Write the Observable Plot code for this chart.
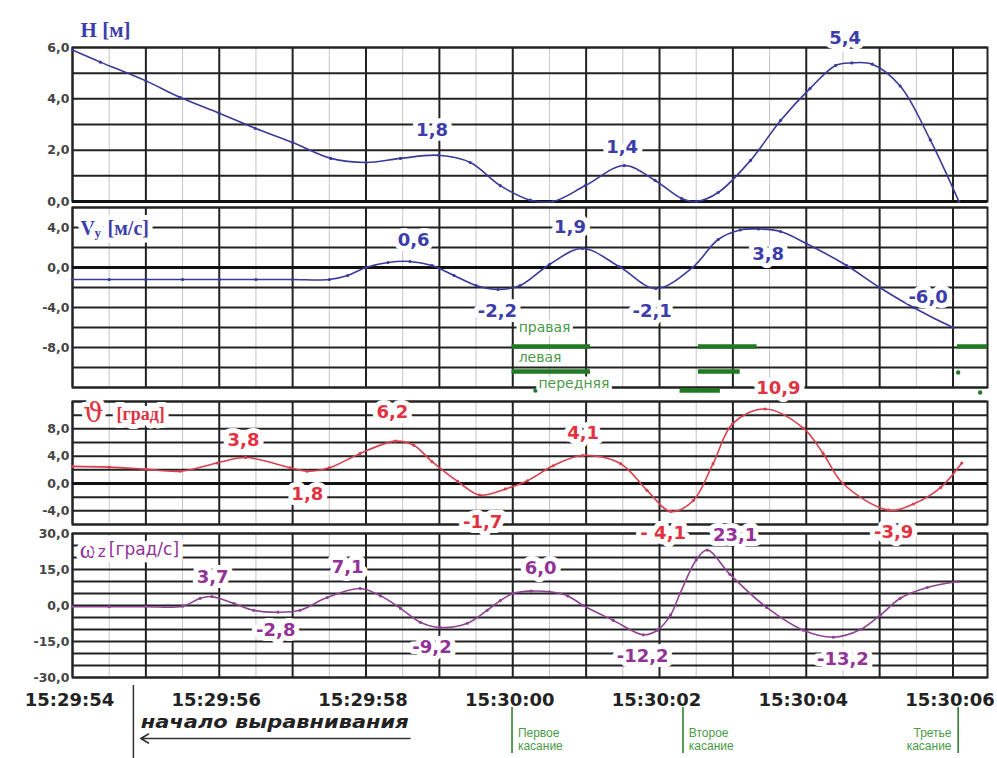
<!DOCTYPE html>
<html><head><meta charset="utf-8">
<script src="https://cdn.jsdelivr.net/npm/d3@7"></script>
<script src="https://cdn.jsdelivr.net/npm/@observablehq/plot@0.6"></script>
<style>
body{margin:0;background:#fff;}
#chart{position:relative;width:997px;height:758px;overflow:hidden;background:#fff;}
#chart svg{position:absolute;left:0;top:0;}
</style></head><body><div id="chart"></div>
<script>
// time in seconds after 15:29:54
const timeTicks = [0, 2, 4, 6, 8, 10, 12];
const timeLabels = ["15:29:54", "15:29:56", "15:29:58", "15:30:00", "15:30:02", "15:30:04", "15:30:06"];

// H [м]
const tH = [0, 0.38, 1, 1.47, 2, 2.49, 3, 3.52, 4, 4.47, 4.99, 5.42, 5.83, 6.24, 6.55, 6.99, 7.52, 7.94, 8.3, 8.5, 8.8, 9.24, 9.65, 10.05, 10.4, 10.62, 10.9, 11.28, 11.69, 12.08];
const hVals = [5.9, 5.43, 4.7, 4.05, 3.44, 2.85, 2.3, 1.68, 1.52, 1.68, 1.8, 1.52, 0.62, 0.05, 0, 0.62, 1.4, 0.82, 0.12, 0, 0.35, 1.6, 3.16, 4.4, 5.3, 5.4, 5.35, 4.5, 2.4, 0];

// Vy [м/с]
const tVy = [0, 0.5, 1, 1.5, 2, 2.5, 3, 3.5, 3.75, 4.0, 4.3, 4.6, 4.9, 5.2, 5.5, 5.8, 6.1, 6.5, 6.95, 7.45, 7.95, 8.45, 8.8, 9.1, 9.35, 9.65, 10.0, 10.55, 11.0, 11.46, 12.0];
const vyVals = [-1.2, -1.2, -1.2, -1.2, -1.2, -1.2, -1.2, -1.2, -0.8, 0, 0.5, 0.6, 0.2, -0.8, -1.8, -2.2, -1.8, 0.3, 1.9, 0.1, -2.1, 0, 2.8, 3.75, 3.85, 3.6, 2.4, 0.2, -2, -4, -6.0];

// ϑ [град]
const tTh = [0, 0.5, 1.0, 1.47, 1.97, 2.36, 2.97, 3.2, 3.5, 3.92, 4.4, 4.65, 4.9, 5.25, 5.55, 5.9, 6.2, 6.55, 6.95, 7.47, 7.83, 8.15, 8.46, 8.73, 9.0, 9.44, 9.96, 10.23, 10.5, 11.12, 11.46, 11.83, 12.12];
const thVals = [2.5, 2.4, 2.1, 1.8, 3.0, 3.8, 2.3, 1.8, 2.3, 4.4, 6.2, 5.6, 3.2, 0.3, -1.7, -0.8, 0.4, 2.6, 4.1, 2.9, -1.0, -4.1, -2.5, 2.9, 8.8, 10.9, 8.1, 4.4, 0, -3.9, -3.0, -0.6, 3.0];

// ωz [град/с]
const tOm = [0, 0.5, 1, 1.5, 1.74, 1.9, 2.2, 2.47, 2.8, 3.1, 3.47, 3.92, 4.2, 4.47, 4.74, 5.01, 5.38, 5.65, 5.83, 6.0, 6.25, 6.5, 6.75, 6.96, 7.37, 7.78, 7.97, 8.15, 8.28, 8.5, 8.65, 8.96, 9.46, 9.96, 10.37, 10.74, 11.01, 11.28, 11.65, 12.07];
const omVals = [-0.5, -0.5, -0.5, -0.3, 3.0, 3.7, 0.8, -2.0, -2.8, -2.0, 3.3, 7.1, 4.0, -1.2, -7.0, -9.2, -7.4, -2.0, 2.0, 5.0, 6.0, 5.7, 4.0, 0, -6.2, -12.2, -10.3, -4, 5, 19, 23.1, 13, -0.8, -10.3, -13.2, -10, -4, 3, 7.5, 10];

// value labels
const hLabels = [{t: 4.9, v: 2.77, s: "1,8"}, {t: 7.49, v: 2.1, s: "1,4"}, {t: 10.53, v: 6.37, s: "5,4"}];
const vyLabels = [{t: 4.65, v: 2.7, s: "0,6"}, {t: 5.79, v: -4.4, s: "-2,2"}, {t: 6.78, v: 4.0, s: "1,9"}, {t: 7.9, v: -4.4, s: "-2,1"}, {t: 9.48, v: 1.3, s: "3,8"}, {t: 11.66, v: -3.0, s: "-6,0"}];
const thLabels = [{t: 2.33, v: 6.3, s: "3,8"}, {t: 3.2, v: -1.5, s: "1,8"}, {t: 4.36, v: 10.5, s: "6,2"}, {t: 5.59, v: -5.6, s: "-1,7"}, {t: 6.96, v: 7.3, s: "4,1"}, {t: 8.05, v: -7.3, s: "- 4,1"}, {t: 9.62, v: 13.9, s: "10,9"}, {t: 11.19, v: -7.2, s: "-3,9"}];
const omLabels = [{t: 1.91, v: 11.7, s: "3,7"}, {t: 2.77, v: -10.4, s: "-2,8"}, {t: 3.75, v: 15.8, s: "7,1"}, {t: 4.9, v: -17.5, s: "-9,2"}, {t: 6.38, v: 15.4, s: "6,0"}, {t: 7.77, v: -21.3, s: "-12,2"}, {t: 9.03, v: 29.2, s: "23,1"}, {t: 10.5, v: -22.5, s: "-13,2"}];

// gear contact bars (drawn on the Vy panel)
const gearNames = [{t: 6.08, v: -6.0, s: "правая"}, {t: 6.08, v: -9.0, s: "левая"}, {t: 6.35, v: -11.6, s: "передняя"}];
const gearBars = [
  {t1: 5.99, t2: 7.06, v: -7.9}, {t1: 8.53, t2: 9.33, v: -7.9}, {t1: 12.06, t2: 12.47, v: -7.9},
  {t1: 5.99, t2: 7.06, v: -10.4}, {t1: 8.53, t2: 9.1, v: -10.4},
  {t1: 8.28, t2: 8.83, v: -12.3}
];
const gearDots = [{t: 6.31, v: -12.3}, {t: 12.07, v: -10.5}, {t: 12.37, v: -12.5}];

// footer annotations
const touchLines = [5.99, 8.32, 12.07];
const touchStart = [{t: 6.07, l1: "Первое", l2: "касание"}, {t: 8.4, l1: "Второе", l2: "касание"}];
const touchEnd = [{t: 11.98, l1: "Третье", l2: "касание"}];
const alignStart = 0.83, alignArrowEnd = 4.6;

const W = 997, HT = 758;
const xDomain = [0, 12.47];
const fullSec = d3.range(0, 12.01, 1);
const halfSec = d3.range(0.5, 12.47, 1);
const BLUE = "#3a3a9a", BLUE_T = "#3c3cab", RED = "#d8404e", RED_T = "#e2323f", PUR = "#8d4592", PUR_T = "#923296", GREEN = "#1f7a22", GREEN_T = "#4a9a48";
const fmt = d => d.toFixed(1).replace(".", ",");

const panels = [
  {top: 47, bottom: 201, domain: [0, 6], grid: d3.range(0, 6.01, 1), ticks: [0, 2, 4, 6], zero: 0},
  {top: 207, bottom: 387, domain: [-12, 6], grid: d3.range(-12, 6.01, 2), ticks: [4, 0, -4, -8], zero: 0},
  {top: 401, bottom: 524, domain: [-6, 12], grid: d3.range(-6, 12.01, 2), ticks: [8, 4, 0, -4], zero: 0},
  {top: 533, bottom: 677, domain: [-30, 30], grid: d3.range(-30, 30.01, 5), ticks: [30, 15, 0, -15, -30], zero: null}
];

function base(top, bottom, domain, marks, reverse = false) {
  return Plot.plot({
    width: W, height: HT, marginLeft: 72, marginRight: 10,
    marginTop: top, marginBottom: HT - bottom,
    x: {domain: xDomain, axis: null},
    y: {domain, axis: null, reverse},
    style: {background: "transparent", maxWidth: "none", overflow: "visible"},
    marks
  });
}
function gridMarks(p) {
  return [
    Plot.ruleX(halfSec, {stroke: "#c4c4c4", strokeWidth: 1}),
    Plot.ruleY(p.grid, {stroke: "#222", strokeWidth: 2}),
    Plot.ruleX(fullSec, {stroke: "#222", strokeWidth: 2}),
    Plot.frame({stroke: "#222", strokeWidth: 2}),
    p.zero != null ? Plot.ruleY([p.zero], {stroke: "#111", strokeWidth: 3.2}) : null,
    Plot.text(p.ticks, {y: d => d, frameAnchor: "left", dx: -3, textAnchor: "end", text: fmt,
      fontSize: 12.5, fontWeight: "bold", fill: "#444", fontFamily: "DejaVu Sans"})
  ];
}
function series(ts, vs, color) {
  const idx = d3.range(ts.length);
  return [
    Plot.line(idx, {x: i => ts[i], y: i => vs[i], curve: "catmull-rom", stroke: color, strokeWidth: 1.6}),
    Plot.dot(idx, {x: i => ts[i], y: i => vs[i], r: 1.6, fill: color})
  ];
}
const halo = {stroke: "white", strokeWidth: 10, paintOrder: "stroke", strokeLinejoin: "round"};
function valueLabels(arr, color) {
  return Plot.text(arr, {x: "t", y: "v", text: "s", fill: color, fontSize: 18, fontWeight: "bold", fontFamily: "DejaVu Sans", ...halo});
}
function unitLabel(pos, parts) {
  return parts.map(p => Plot.text([pos], {x: "t", y: "v", text: () => p.s, dx: p.dx, dy: p.dy || 0, textAnchor: "start",
    fill: p.fill, fontSize: p.size, fontWeight: p.weight || "normal", fontFamily: p.font, ...(p.halo ? halo : {})}));
}

const root = document.getElementById("chart");
const [pH, pV, pT, pO] = panels;

// grids and curves
root.append(base(pH.top, pH.bottom, pH.domain, [...gridMarks(pH), ...series(tH, hVals, BLUE)]));
root.append(base(pV.top, pV.bottom, pV.domain, [...gridMarks(pV), ...series(tVy, vyVals, BLUE),
  Plot.ruleY(gearBars, {y: "v", x1: "t1", x2: "t2", stroke: GREEN, strokeWidth: 4.5}),
  Plot.dot(gearDots, {x: "t", y: "v", r: 2.2, fill: GREEN})
]));
root.append(base(pT.top, pT.bottom, pT.domain, [...gridMarks(pT), ...series(tTh, thVals, RED)]));
root.append(base(pO.top, pO.bottom, pO.domain, [...gridMarks(pO), ...series(tOm, omVals, PUR)]));

// labels
root.append(base(pH.top, pH.bottom, pH.domain, [
  valueLabels(hLabels, BLUE_T),
  ...unitLabel({t: 0.11, v: 6.68}, [{s: "H [м]", dx: 0, fill: BLUE_T, size: 21, weight: "bold", font: "Liberation Serif"}])
]));
root.append(base(pV.top, pV.bottom, pV.domain, [
  ...unitLabel({t: 0.11, v: 3.9}, [
    {s: "V", dx: 0, fill: BLUE_T, size: 20, weight: "bold", font: "Liberation Serif", halo: true},
    {s: "y", dx: 14, dy: 4, fill: BLUE_T, size: 13, weight: "bold", font: "Liberation Serif", halo: true},
    {s: "[м/с]", dx: 27, fill: BLUE_T, size: 20, weight: "bold", font: "Liberation Serif", halo: true}
  ]),
  valueLabels(vyLabels, BLUE_T),
  Plot.text(gearNames, {x: "t", y: "v", text: "s", textAnchor: "start", fill: GREEN_T, fontSize: 14, fontFamily: "DejaVu Sans", stroke: "white", strokeWidth: 7, paintOrder: "stroke", strokeLinejoin: "round"})
]));
root.append(base(pT.top, pT.bottom, pT.domain, [
  ...unitLabel({t: 0.15, v: 10.25}, [
    {s: "ϑ", dx: 0, fill: RED_T, size: 28, font: "DejaVu Serif", halo: true},
    {s: "[град]", dx: 33, dy: 1, fill: RED_T, size: 18, weight: "bold", font: "Liberation Serif", halo: true}
  ]),
  valueLabels(thLabels, RED_T)
]));
root.append(base(pO.top, pO.bottom, pO.domain, [
  ...unitLabel({t: 0.1, v: 23.3}, [
    {s: "ω", dx: 0, fill: PUR_T, size: 25, font: "Liberation Serif", halo: true},
    {s: "z", dx: 18, dy: 2, fill: PUR_T, size: 16, font: "DejaVu Sans", halo: true},
    {s: "[град/с]", dx: 29, fill: PUR_T, size: 17, font: "DejaVu Sans", halo: true}
  ]),
  valueLabels(omLabels, PUR_T)
]));

// footer (y = pixel rows below the lowest panel)
const greenSmall = {fill: GREEN_T, fontSize: 12, fontFamily: "Liberation Sans Narrow, Liberation Sans"};
const footer = base(677, HT, [0, 81], [
  Plot.text(timeTicks, {x: d => d, y: () => 23, dx: -3, text: (d, i) => timeLabels[i], fontSize: 18, fontWeight: "bold", fontFamily: "DejaVu Sans", fill: "#222"}),
  Plot.ruleX([alignStart], {y1: 8, y2: 81, stroke: "#333", strokeWidth: 1.5}),
  Plot.text(["начало выравнивания"], {x: () => alignStart + 0.1, y: () => 45, text: d => d, textAnchor: "start", fontSize: 18, fontWeight: "bold", fontStyle: "italic", fontFamily: "DejaVu Sans", fill: "#222"}),
  Plot.arrow([0], {x1: () => alignArrowEnd, x2: () => alignStart + 0.1, y1: () => 61, y2: () => 61, stroke: "#333", strokeWidth: 1.5, headLength: 9}),
  Plot.ruleX(touchLines, {y1: 30, y2: 76, stroke: GREEN, strokeWidth: 1.5}),
  Plot.text(touchStart, {x: "t", y: () => 56, text: "l1", textAnchor: "start", ...greenSmall}),
  Plot.text(touchStart, {x: "t", y: () => 69, text: "l2", textAnchor: "start", ...greenSmall}),
  Plot.text(touchEnd, {x: "t", y: () => 56, text: "l1", textAnchor: "end", ...greenSmall}),
  Plot.text(touchEnd, {x: "t", y: () => 69, text: "l2", textAnchor: "end", ...greenSmall})
], true);
root.append(footer);
d3.select(footer).selectAll("text").filter(function() { return this.textContent === "начало выравнивания"; })
  .attr("textLength", 268).attr("lengthAdjust", "spacingAndGlyphs");
</script></body></html>
